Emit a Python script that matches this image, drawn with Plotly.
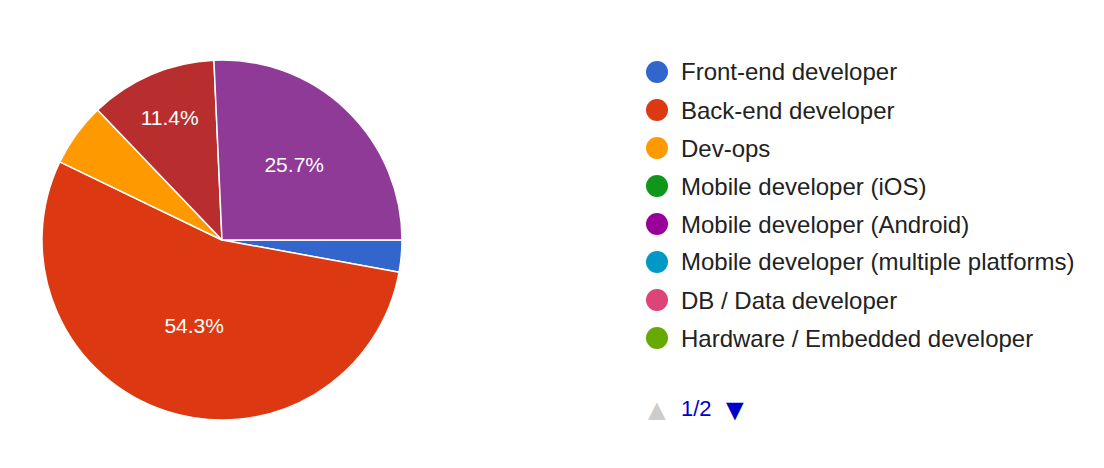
import plotly.graph_objects as go

slice_labels = ["Front-end developer", "Back-end developer", "Dev-ops", "Other (page 2, a)", "Other (page 2, b)"]
slice_values = [1, 19, 2, 4, 9]
slice_colors = ["#3366cc", "#dc3912", "#ff9900", "#b82e2e", "#8f3a96"]
slice_text = ["", "54.3%", "", "11.4%", "25.7%"]

legend_labels = ["Front-end developer", "Back-end developer", "Dev-ops", "Mobile developer (iOS)",
                 "Mobile developer (Android)", "Mobile developer (multiple platforms)",
                 "DB / Data developer", "Hardware / Embedded developer"]
legend_colors = ["#3366cc", "#dc3912", "#ff9900", "#109618", "#990099", "#0099c6", "#dd4477", "#66aa00"]

W, H = 1104, 468
OX, OY = 8, 8  # page body offset
fig = go.Figure(go.Pie(
    labels=slice_labels, values=slice_values, sort=False, direction="clockwise", rotation=90,
    marker=dict(colors=slice_colors, line=dict(color="white", width=1.5)),
    text=slice_text, textinfo="text", textposition="inside", insidetextorientation="horizontal",
    textfont=dict(color="white", size=21, family="Liberation Sans, Arial"),
    domain=dict(x=[(42 - OX) / W, (402 - OX) / W], y=[1 - (420 - OY) / H, 1 - (60 - OY) / H]),
    showlegend=False, hoverinfo="label+percent",
))

shapes, annots = [], []
for i, (lab, col) in enumerate(zip(legend_labels, legend_colors)):
    yc = 72 + 38 * i - OY
    xc = 657 - OX
    shapes.append(dict(type="circle", xref="paper", yref="paper",
                       x0=(xc - 11) / W, x1=(xc + 11) / W, y0=1 - (yc + 11) / H, y1=1 - (yc - 11) / H,
                       fillcolor=col, line=dict(width=0)))
    annots.append(dict(x=(679 - OX) / W, y=1 - yc / H, xref="paper", yref="paper", text=lab,
                       showarrow=False, xanchor="left", yanchor="middle",
                       font=dict(size=24, color="#222222", family="Liberation Sans, Arial")))
yp = 1 - (408 - OY) / H
annots.append(dict(x=(657 - OX) / W, y=yp, xref="paper", yref="paper", text="▲", showarrow=False,
                   xanchor="center", yanchor="middle", font=dict(size=30, color="#cccccc")))
annots.append(dict(x=(679 - OX) / W, y=yp, xref="paper", yref="paper", text="1/2", showarrow=False,
                   xanchor="left", yanchor="middle",
                   font=dict(size=22, color="#0000cc", family="Liberation Sans, Arial")))
annots.append(dict(x=(735 - OX) / W, y=yp, xref="paper", yref="paper", text="▼", showarrow=False,
                   xanchor="center", yanchor="middle", font=dict(size=30, color="#0000cc")))

fig.update_layout(width=W, height=H, margin=dict(l=0, r=0, t=0, b=0),
                  paper_bgcolor="white", plot_bgcolor="white", shapes=shapes, annotations=annots)
fig.write_html("out.html")
